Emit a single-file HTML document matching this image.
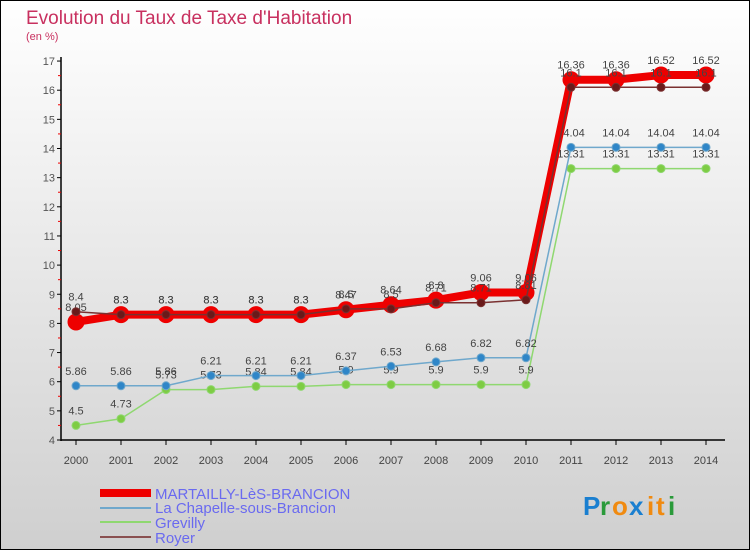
<!DOCTYPE html>
<html><head><meta charset="utf-8"><style>
body{margin:0}
#c{width:750px;height:550px;position:relative;overflow:hidden;font-family:"Liberation Sans",sans-serif}
</style></head><body>
<div id="c">
<svg id="s" width="750" height="550" xmlns="http://www.w3.org/2000/svg">
<defs><linearGradient id="bg" x1="0" y1="0" x2="0" y2="1"><stop offset="0" stop-color="#ffffff"/><stop offset="1" stop-color="#cfcfcf"/></linearGradient></defs>
<rect x="0.5" y="0.5" width="749" height="549" fill="url(#bg)" stroke="#000"/>
<text x="26" y="24" font-size="19" fill="#c8305f">Evolution du Taux de Taxe d'Habitation</text>
<text x="26" y="40" font-size="11" fill="#c8305f">(en %)</text>
<g id="axes"></g><g id="series"></g>
<g>
<rect x="100" y="489" width="51" height="8" fill="#e00"/>
<text x="155" y="499" font-size="15" fill="#6a6af0">MARTAILLY-LèS-BRANCION</text>
<line x1="100" y1="508" x2="151" y2="508" stroke="#6fa8cc" stroke-width="2"/>
<text x="155" y="513" font-size="15" fill="#6a6af0">La Chapelle-sous-Brancion</text>
<line x1="100" y1="522" x2="151" y2="522" stroke="#8fd870" stroke-width="2"/>
<text x="155" y="528" font-size="15" fill="#6a6af0">Grevilly</text>
<line x1="100" y1="537" x2="151" y2="537" stroke="#8a5050" stroke-width="2"/>
<text x="155" y="543" font-size="15" fill="#6a6af0">Royer</text>
</g>
<g font-size="26" font-weight="bold">
<text x="583" y="515" fill="#1a7fd0">P</text><text x="600" y="515" fill="#2a9a3a">r</text><text x="612" y="515" fill="#f08a10">o</text><text x="629" y="515" fill="#1a7fd0">x</text><text x="647" y="515" fill="#f08a10">i</text><text x="656" y="515" fill="#f08a10">t</text><text x="668" y="515" fill="#2a9a3a">i</text>
</g>
</svg></div>
<script>
const years=[2000,2001,2002,2003,2004,2005,2006,2007,2008,2009,2010,2011,2012,2013,2014];
const yTicks=[4,5,6,7,8,9,10,11,12,13,14,15,16,17];
const martailly=[8.05,8.3,8.3,8.3,8.3,8.3,8.47,8.64,8.8,9.06,9.06,16.36,16.36,16.52,16.52];
const chapelle=[5.86,5.86,5.86,6.21,6.21,6.21,6.37,6.53,6.68,6.82,6.82,14.04,14.04,14.04,14.04];
const grevilly=[4.5,4.73,5.73,5.73,5.84,5.84,5.9,5.9,5.9,5.9,5.9,13.31,13.31,13.31,13.31];
const royer=[8.4,8.3,8.3,8.3,8.3,8.3,8.5,8.5,8.71,8.71,8.81,16.1,16.1,16.1,16.1];
const NS="http://www.w3.org/2000/svg";
function X(i){return 76+i*45;}
function Y(v){return 440-(v-4)*29.15;}
function mk(t,a,p){const e=document.createElementNS(NS,t);for(const k in a)e.setAttribute(k,a[k]);p.appendChild(e);return e;}
const ax=document.getElementById('axes');
let l=mk('line',{x1:61,y1:57,x2:61,y2:441,stroke:'#000','stroke-width':1.5},ax);


l=mk('line',{x1:61,y1:440,x2:725,y2:440,stroke:'#000','stroke-width':1.5},ax);


yTicks.forEach(v=>{
  mk('line',{x1:57,y1:Y(v),x2:61,y2:Y(v),stroke:'#000'},ax);
  if(v<17)mk('line',{x1:58,y1:Y(v+0.5),x2:61,y2:Y(v+0.5),stroke:'#e00'},ax);
  const t=mk('text',{x:55,y:Y(v)+4,'font-size':11,fill:'#555','text-anchor':'end'},ax);
  t.textContent=v;
  
  
});
years.forEach((y,i)=>{
  mk('line',{x1:X(i),y1:440,x2:X(i),y2:445,stroke:'#000'},ax);
  const t=mk('text',{x:X(i),y:464,'font-size':11,fill:'#444','text-anchor':'middle'},ax);
  t.textContent=y;
  
  
});
const sg=document.getElementById('series');
function draw(vals,color,w,r,name,dot){
  const g=mk('g',{},sg);
  
  
  mk('polyline',{points:vals.map((v,i)=>X(i)+','+Y(v)).join(' '),fill:'none',stroke:color,'stroke-width':w,'stroke-linejoin':'round'},g);
  vals.forEach((v,i)=>{
    const c=mk('circle',{cx:X(i),cy:Y(v),r:r,fill:dot,stroke:color,'stroke-width':1},g);
    
    
    const t=mk('text',{x:X(i),y:Y(v)-11,'font-size':11,fill:'#444','text-anchor':'middle'},g);
    t.textContent=v;
  });
}
draw(grevilly,'#8fd870',1.5,4,'grevilly','#7ecc44');
draw(chapelle,'#6fa8cc',1.5,4,'chapelle','#2f86c8');
draw(martailly,'#ee0000',8,8,'martailly','#ee0000');
draw(royer,'#7a3030',1.5,4,'royer','#6a1a1a');
</script>
</body></html>
